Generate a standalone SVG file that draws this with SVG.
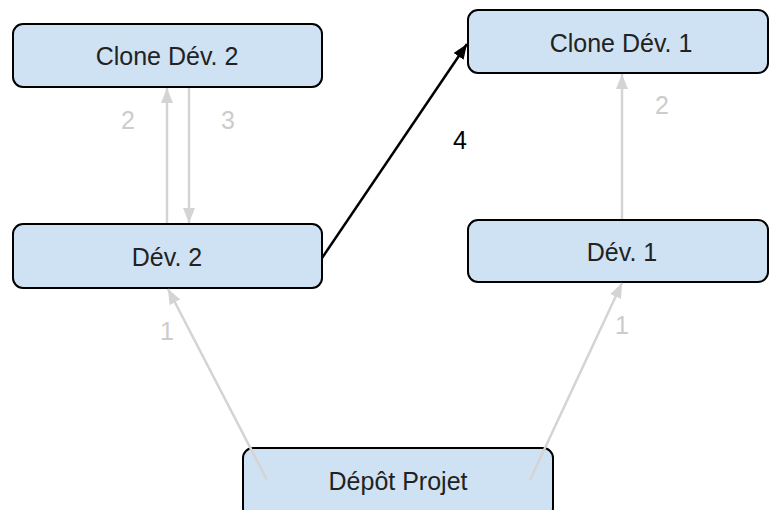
<svg xmlns="http://www.w3.org/2000/svg" width="769" height="510" viewBox="0 0 769 510">
<style>
.box{fill:#cfe2f3;stroke:#000;stroke-width:2}
.lbl{font-family:"Liberation Sans",Arial,sans-serif;font-size:25px;fill:#222;text-anchor:middle}
.num{font-family:"Liberation Sans",Arial,sans-serif;font-size:25px;fill:#cccccc;text-anchor:middle}
.num4{font-family:"Liberation Sans",Arial,sans-serif;font-size:25px;fill:#000;text-anchor:middle}
.g{stroke:#d4d4d4;stroke-width:2.5;fill:none}
.k{stroke:#000;stroke-width:2.5;fill:none}
</style>
<defs>
<marker id="ag" viewBox="0 0 15 12" refX="15" refY="6" markerWidth="15" markerHeight="12" markerUnits="userSpaceOnUse" orient="auto">
<path d="M0,0 L15,6 L0,12 z" fill="#d4d4d4"/>
</marker>
<marker id="ak" viewBox="0 0 15 12" refX="15" refY="6" markerWidth="15" markerHeight="12" markerUnits="userSpaceOnUse" orient="auto">
<path d="M0,0 L15,6 L0,12 z" fill="#000"/>
</marker>
</defs>
<g id="clone2">
<rect class="box" x="13" y="24" width="309" height="63" rx="10"/>
<text class="lbl" x="167" y="65">Clone Dév. 2</text>
</g>
<g id="clone1">
<rect class="box" x="468" y="10" width="300" height="63" rx="10"/>
<text class="lbl" x="621" y="52">Clone Dév. 1</text>
</g>
<g id="dev2">
<rect class="box" x="13" y="224" width="309" height="64" rx="10"/>
<text class="lbl" x="167" y="266">Dév. 2</text>
</g>
<g id="dev1">
<rect class="box" x="468" y="220" width="300" height="62" rx="10"/>
<text class="lbl" x="622" y="261">Dév. 1</text>
</g>
<g id="depot">
<rect class="box" x="243" y="448" width="310" height="70" rx="10"/>
<text class="lbl" x="398" y="490">Dépôt Projet</text>
</g>
<g id="connectors">
<line class="g" x1="167" y1="223" x2="167" y2="88" marker-end="url(#ag)"/>
<line class="g" x1="189" y1="88" x2="189" y2="223" marker-end="url(#ag)"/>
<line class="g" x1="622" y1="219" x2="622" y2="74" marker-end="url(#ag)"/>
<line class="g" x1="267" y1="480" x2="168" y2="289" marker-end="url(#ag)"/>
<line class="g" x1="530" y1="480" x2="622" y2="283" marker-end="url(#ag)"/>
<line class="k" x1="322" y1="258" x2="467" y2="44" marker-end="url(#ak)"/>
<text class="num" x="128" y="129">2</text>
<text class="num" x="228" y="129">3</text>
<text class="num" x="662" y="114">2</text>
<text class="num" x="167" y="340">1</text>
<text class="num" x="622" y="334">1</text>
<text class="num4" x="460" y="149">4</text>
</g>
</svg>
